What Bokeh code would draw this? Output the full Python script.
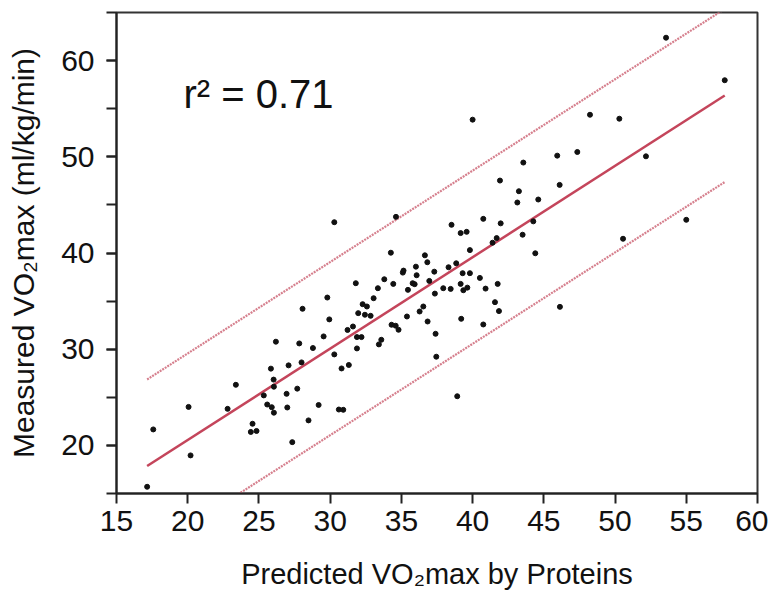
from bokeh.plotting import figure
from bokeh.models import SingleIntervalTicker, Range1d, Label
from bokeh.embed import file_html
from bokeh.resources import INLINE

# Predicted (x) and measured (y) VO2max values
pred_vo2 = [17.15, 17.58, 20.06, 20.2, 22.8, 23.38, 24.43, 24.55, 24.83, 25.34,
            25.58, 25.84, 25.9, 26.03, 26.05, 26.05, 26.19, 26.94, 26.99, 27.08,
            27.34, 27.69, 27.83, 27.99, 28.06, 28.48, 28.79, 29.19, 29.54, 29.8,
            29.94, 30.29, 30.29, 30.61, 30.8, 30.92, 31.22, 31.31, 31.6, 31.8,
            31.88, 31.88, 31.97, 32.2, 32.28, 32.44, 32.58, 32.84, 33.05, 33.35,
            33.42, 33.59, 33.8, 34.26, 34.31, 34.43, 34.6, 34.62, 34.8, 35.1,
            35.15, 35.39, 35.46, 35.79, 35.93, 36.02, 36.07, 36.28, 36.54, 36.65,
            36.82, 36.84, 36.96, 37.31, 37.35, 37.4, 37.45, 37.94, 38.31, 38.46,
            38.52, 38.85, 38.92, 39.16, 39.16, 39.2, 39.3, 39.35, 39.58, 39.63,
            39.81, 39.81, 40.0, 40.51, 40.75, 40.75, 40.91, 41.4, 41.57, 41.69,
            41.76, 41.85, 41.92, 41.97, 43.14, 43.25, 43.51, 43.56, 44.26, 44.4,
            44.61, 45.94, 46.11, 46.13, 47.35, 48.24, 50.3, 50.56, 52.17, 53.58,
            55.0, 57.7]
meas_vo2 = [15.7, 21.66, 24.0, 18.96, 23.8, 26.3, 21.4, 22.25, 21.5, 25.2,
            24.25, 27.98, 23.97, 26.84, 26.1, 23.4, 30.78, 25.36, 23.94, 28.32,
            20.34, 25.9, 30.6, 28.63, 34.2, 22.6, 30.12, 24.2, 31.33, 35.37,
            33.1, 29.46, 43.2, 23.73, 28.0, 23.7, 32.0, 28.36, 32.36, 36.86,
            31.26, 30.08, 33.75, 31.26, 34.68, 33.58, 34.44, 33.47, 35.3, 36.34,
            30.5, 30.98, 37.27, 40.03, 32.54, 36.79, 32.44, 43.76, 32.02, 37.96,
            38.17, 33.4, 36.17, 36.86, 36.76, 38.58, 37.69, 33.92, 34.44, 39.76,
            39.04, 32.88, 37.1, 38.06, 35.78, 31.6, 29.22, 36.34, 38.52, 36.27,
            42.93, 38.93, 25.11, 42.07, 36.79, 33.16, 37.9, 36.13, 42.2, 36.4,
            40.3, 37.9, 53.86, 37.41, 43.55, 32.57, 36.3, 41.07, 34.89, 41.55,
            36.79, 33.96, 47.53, 43.08, 45.25, 46.42, 41.9, 49.4, 43.29, 39.97,
            45.56, 50.12, 47.08, 34.4, 50.5, 54.37, 53.96, 41.48, 50.05, 62.38,
            43.45, 57.96]

# Fit line and prediction band
fit_slope = 0.95
fit_intercept = 1.56
band_halfwidth = 9.0
r2_text = "r\u00b2 = 0.71"

x_label = "Predicted VO\u2082max by Proteins"
y_label = "Measured VO\u2082max (ml/kg/min)"

x_lo, x_hi = min(pred_vo2), max(pred_vo2)
fit_x = [x_lo, x_hi]
fit_y = [fit_intercept + fit_slope * v for v in fit_x]
upper_y = [v + band_halfwidth for v in fit_y]
lower_y = [v - band_halfwidth for v in fit_y]

FONT = "Liberation Sans"

p = figure(frame_width=641, frame_height=481, output_backend="svg",
           toolbar_location=None,
           x_range=Range1d(15, 60), y_range=Range1d(15, 65))
p.min_border_left = 116
p.min_border_right = 11
p.min_border_top = 12
p.min_border_bottom = 90
p.background_fill_color = "white"
p.border_fill_color = "white"
p.outline_line_color = "#333333"
p.outline_line_width = 2
p.xgrid.visible = False
p.ygrid.visible = False

p.line(fit_x, upper_y, line_color="#d6808e", line_width=2.2, line_dash="2 1")
p.line(fit_x, lower_y, line_color="#d6808e", line_width=2.2, line_dash="2 1")
p.line(fit_x, fit_y, line_color="#c4455b", line_width=2.5)
p.scatter(pred_vo2, meas_vo2, size=5, fill_color="#111111", line_color="#111111")

p.add_layout(Label(x=19.7, y=56.5, text=r2_text, text_font=FONT,
                   text_font_size="40px", text_color="#111111",
                   text_baseline="alphabetic"))

p.xaxis.ticker = SingleIntervalTicker(interval=5, num_minor_ticks=0)
p.yaxis.ticker = SingleIntervalTicker(interval=10, num_minor_ticks=2)

for ax in (p.xaxis[0], p.yaxis[0]):
    ax.axis_line_color = "#222222"
    ax.axis_line_width = 2
    ax.major_tick_line_color = "#222222"
    ax.major_tick_line_width = 2
    ax.major_tick_out = 10
    ax.major_tick_in = 0
    ax.minor_tick_line_color = "#222222"
    ax.minor_tick_line_width = 2
    ax.minor_tick_out = 10
    ax.minor_tick_in = 0
    ax.major_label_text_font = FONT
    ax.major_label_text_font_size = "30px"
    ax.major_label_text_color = "#111111"
    ax.axis_label_text_font = FONT
    ax.axis_label_text_font_style = "normal"
    ax.axis_label_text_color = "#111111"

p.xaxis.axis_label = x_label
p.yaxis.axis_label = y_label
p.xaxis.axis_label_text_font_size = "29px"
p.yaxis.axis_label_text_font_size = "30px"
p.xaxis.major_label_standoff = 7
p.yaxis.major_label_standoff = 12
p.xaxis.axis_label_standoff = 24
p.yaxis.axis_label_standoff = 18

open("out.html", "w").write(file_html(p, INLINE))
